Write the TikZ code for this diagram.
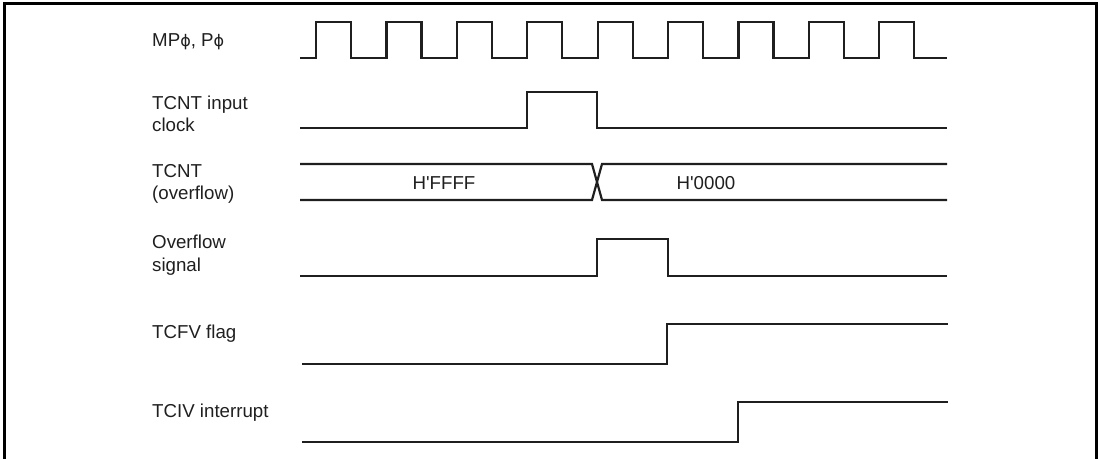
\documentclass[tikz,border=0pt]{standalone}
\usepackage{fontspec}
\setmainfont{Liberation Sans}[Ligatures=TeXOff]
\newfontfamily\phifont{DejaVu Sans}
\newcommand{\ph}{{\phifont\fontsize{16}{18}\selectfont ϕ}}

\begin{document}
\begin{tikzpicture}[x=1pt, y=-1pt,
	wave/.style={line width=2.2pt, line join=miter, black!88},
	sig/.style={anchor=west, align=left, inner sep=0pt, text=black!88,
		font=\fontsize{18.7}{22.5}\selectfont},
	val/.style={inner sep=0pt, text=black!88, font=\fontsize{18.7}{22.5}\selectfont}]
	\useasboundingbox (0, 0) rectangle (1100, 458);
	% frame, open at the bottom
	\draw [line width=3pt] (4.5, 470) -- (4.5, 3.5) -- (1096, 3.5) -- (1096, 470);
	% signal names
	\node [sig] (clk) at (152, 42) {MP\ph, P\ph};
	\node [sig] (incl) at (152, 114) {TCNT input\\clock};
	\node [sig] (tcnt) at (152, 184) {TCNT\\(overflow)};
	\node [sig] (ovf) at (152, 255) {Overflow\\signal};
	\node [sig] (tcfv) at (152, 334) {TCFV flag};
	\node [sig] (tciv) at (152, 413) {TCIV interrupt};
	% system clock
	\draw [wave] (300, 58) \foreach \k in {0,...,8} {
		-- ({316+70.4*\k}, 58) -- ({316+70.4*\k}, 22)
		-- ({351+70.4*\k}, 22) -- ({351+70.4*\k}, 58)} -- (947, 58);
	% TCNT input clock
	\draw [wave] (300, 128) -- (527, 128) -- (527, 92) -- (597, 92) -- (597, 128) -- (947, 128);
	% TCNT value
	\draw [wave] (300, 164) -- (592, 164) -- (602, 200) -- (947, 200);
	\draw [wave] (300, 200) -- (592, 200) -- (602, 164) -- (947, 164);
	\node [val] (ffff) at (444, 183) {H'FFFF};
	\node [val] (zero) at (706, 183) {H'0000};
	% overflow signal
	\draw [wave] (300, 276) -- (597, 276) -- (597, 239) -- (668, 239) -- (668, 276) -- (947, 276);
	% TCFV flag
	\draw [wave] (302, 364) -- (667, 364) -- (667, 324) -- (948, 324);
	% TCIV interrupt
	\draw [wave] (302, 442) -- (738, 442) -- (738, 402) -- (948, 402);
\end{tikzpicture}
\end{document}
